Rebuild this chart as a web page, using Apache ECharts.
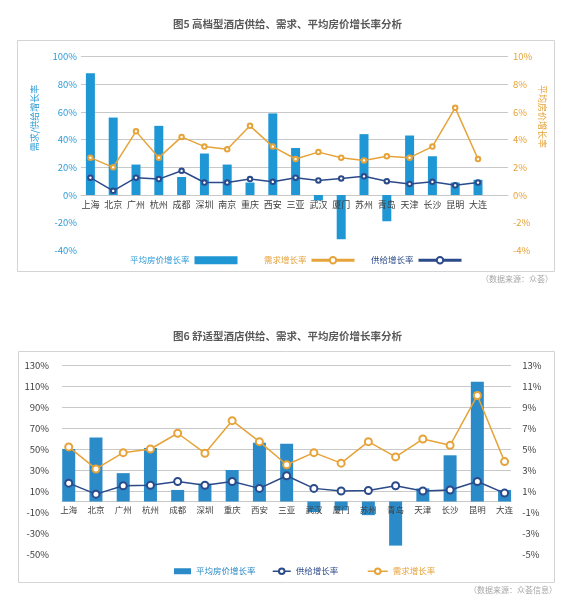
<!DOCTYPE html>
<html><head><meta charset="utf-8">
<script src="https://cdn.jsdelivr.net/npm/echarts@6/dist/echarts.min.js"></script>
<style>
html,body{margin:0;padding:0;background:#fff;}
#c5{position:absolute;left:0;top:0;width:575px;height:300px;}
#c6{position:absolute;left:0;top:300px;width:575px;height:303px;}
</style>
</head><body>
<div id="c5"></div><div id="c6"></div>
<script>
// ---------- 图5 data ----------
const cities5 = ['上海','北京','广州','杭州','成都','深圳','南京','重庆','西安','三亚','武汉','厦门','苏州','青岛','天津','长沙','昆明','大连'];
const adrGrowth5 = [8.8, 5.6, 2.2, 5.0, 1.3, 3.0, 2.2, 0.9, 5.9, 3.4, -0.4, -3.2, 4.4, -1.9, 4.3, 2.8, 0.9, 1.1];
const demandGrowth5 = [27, 20, 46, 27, 42, 35, 33, 50, 35, 26, 31, 27, 25, 28, 27, 35, 63, 26];
const supplyGrowth5 = [12.5, 3, 12.5, 11.5, 17.5, 9, 9, 11.5, 9.5, 12.5, 10.5, 12, 13.5, 10, 8, 9.5, 7, 9];
const leftTicks5 = [-40, -20, 0, 20, 40, 60, 80, 100];
const rightTicks5 = [-4, -2, 0, 2, 4, 6, 8, 10];

// ---------- 图6 data ----------
const cities6 = ['上海','北京','广州','杭州','成都','深圳','重庆','西安','三亚','武汉','厦门','苏州','青岛','天津','长沙','昆明','大连'];
const adrGrowth6 = [5.0, 6.1, 2.7, 5.1, 1.1, 1.7, 3.0, 5.6, 5.5, -1.0, -0.85, -1.3, -4.2, 1.25, 4.4, 11.4, 1.1];
const supplyGrowth6 = [17.5, 7, 15, 15.5, 19, 15.5, 19, 12.5, 24.5, 12.5, 10, 10.5, 15, 10, 11, 19, 8];
const demandGrowth6 = [52, 31, 46.5, 50, 65, 46, 77, 57, 35, 46.5, 36.5, 57, 42.5, 59.5, 53.5, 101, 38];
const leftTicks6 = [-50, -30, -10, 10, 30, 50, 70, 90, 110, 130];
const rightTicks6 = [-5, -3, -1, 1, 3, 5, 7, 9, 11, 13];

const FONT = '"Noto Sans CJK SC", "Noto Sans", sans-serif';
const BLUE5 = '#1f97d5', BLUE6 = '#2a8bc8', LBLUE = '#2e9bd6', ORANGE = '#e6a33a', NAVY = '#2b4a8a', GRID = '#c9c9c9';
function range(t) { return { min: t[0], max: t[t.length - 1], interval: t[1] - t[0] }; }
function gridColors(t) { return t.map(v => v < 0 ? 'rgba(0,0,0,0)' : GRID); }
// distance (px) of the zero line above the bottom of a grid of given height
function zeroOffset(t, h) { const r = range(t); return -((0 - r.min) / (r.max - r.min)) * h; }
const noAxis = { axisLine: { show: false }, axisTick: { show: false } };

// ---------- chart 5 ----------
const G5 = { top: 56.7, bottom: 49.7 }, H5 = 300 - G5.top - G5.bottom;
const c5 = echarts.init(document.getElementById('c5'), null, { renderer: 'canvas' });
c5.setOption({
  animation: false,
  textStyle: { fontFamily: FONT },
  title: { text: '图5 高档型酒店供给、需求、平均房价增长率分析', left: 'center', top: 19, padding: 0,
    textStyle: { fontSize: 10.5, fontWeight: 'bold', color: '#595959', fontFamily: FONT } },
  graphic: [
    { type: 'rect', silent: true, shape: { x: 17.5, y: 40.5, width: 537, height: 231 }, style: { fill: 'none', stroke: '#d4d4d4', lineWidth: 1 } },
    { type: 'text', silent: true, x: 35, y: 118, rotation: Math.PI / 2,
      style: { text: '需求/供给增长率', fill: LBLUE, font: '9px ' + FONT, align: 'center', verticalAlign: 'middle', textAlign: 'center', textVerticalAlign: 'middle' } },
    { type: 'text', silent: true, x: 542, y: 116.5, rotation: -Math.PI / 2,
      style: { text: '平均房价增长率', fill: ORANGE, font: '9px ' + FONT, align: 'center', verticalAlign: 'middle', textAlign: 'center', textVerticalAlign: 'middle' } },
    { type: 'text', silent: true, x: 553, y: 279,
      style: { text: '（数据来源：众荟）', fill: '#a6a6a6', font: '8px ' + FONT, align: 'right', verticalAlign: 'middle', textAlign: 'right', textVerticalAlign: 'middle' } }
  ],
  grid: [
    { left: 79, right: 85.6, top: G5.top, bottom: G5.bottom },
    { left: 81, right: 67, top: G5.top, bottom: G5.bottom }
  ],
  xAxis: [
    { type: 'category', gridIndex: 0, data: cities5, z: 5, position: 'bottom', offset: zeroOffset(leftTicks5, H5),
      axisLine: { show: false, onZero: false }, axisTick: { show: false },
      axisLabel: { color: '#404040', fontSize: 9, margin: 5, interval: 0, fontFamily: FONT } },
    { type: 'value', gridIndex: 1, min: 0, max: 1, position: 'bottom', offset: zeroOffset(leftTicks5, H5),
      axisLine: { show: true, onZero: false, lineStyle: { color: GRID } },
      axisTick: { show: false }, axisLabel: { show: false }, splitLine: { show: false } }
  ],
  yAxis: [
    Object.assign({ type: 'value', gridIndex: 0, splitLine: { show: false },
      axisLabel: { formatter: '{value}%', color: LBLUE, fontSize: 9.5, margin: 2, fontFamily: FONT } }, range(leftTicks5), noAxis),
    Object.assign({ type: 'value', gridIndex: 0, position: 'right', splitLine: { show: false },
      axisLabel: { formatter: '{value}%', color: ORANGE, fontSize: 9.5, margin: 23.6, fontFamily: FONT } }, range(rightTicks5), noAxis),
    Object.assign({ type: 'value', gridIndex: 1, axisLabel: { show: false },
      splitLine: { show: true, lineStyle: { color: gridColors(leftTicks5), width: 1 } } }, range(leftTicks5), noAxis)
  ],
  legend: [
    { data: ['平均房价增长率'], left: 130, top: 256, padding: 0, align: 'right', icon: 'rect', itemWidth: 43, itemHeight: 8,
      selectedMode: false, textStyle: { color: LBLUE, fontSize: 8.5, fontFamily: FONT } },
    { data: ['需求增长率'], left: 264, top: 256, padding: 0, align: 'right', itemWidth: 43, itemHeight: 8,
      lineStyle: { width: 3 }, selectedMode: false, textStyle: { color: ORANGE, fontSize: 8.5, fontFamily: FONT } },
    { data: ['供给增长率'], left: 371, top: 256, padding: 0, align: 'right', itemWidth: 43, itemHeight: 8,
      lineStyle: { width: 3 }, selectedMode: false, textStyle: { color: NAVY, fontSize: 8.5, fontFamily: FONT } }
  ],
  series: [
    { name: '平均房价增长率', type: 'bar', xAxisIndex: 0, yAxisIndex: 1, data: adrGrowth5, barWidth: 9, itemStyle: { color: BLUE5 } },
    { name: '需求增长率', type: 'line', xAxisIndex: 0, yAxisIndex: 0, data: demandGrowth5, symbol: 'emptyCircle', symbolSize: 4.5,
      lineStyle: { color: ORANGE, width: 1.5 }, itemStyle: { color: ORANGE, borderWidth: 1.2 } },
    { name: '供给增长率', type: 'line', xAxisIndex: 0, yAxisIndex: 0, data: supplyGrowth5, symbol: 'emptyCircle', symbolSize: 4.5,
      lineStyle: { color: NAVY, width: 1.5 }, itemStyle: { color: NAVY, borderWidth: 1.2 } }
  ]
});

// ---------- chart 6 ----------
const G6 = { top: 65, bottom: 49 }, H6 = 303 - G6.top - G6.bottom;
const c6 = echarts.init(document.getElementById('c6'), null, { renderer: 'canvas' });
c6.setOption({
  animation: false,
  textStyle: { fontFamily: FONT },
  title: { text: '图6 舒适型酒店供给、需求、平均房价增长率分析', left: 'center', top: 31, padding: 0,
    textStyle: { fontSize: 10.5, fontWeight: 'bold', color: '#595959', fontFamily: FONT } },
  graphic: [
    { type: 'rect', silent: true, shape: { x: 18.5, y: 51.5, width: 536, height: 231 }, style: { fill: 'none', stroke: '#d4d4d4', lineWidth: 1 } },
    { type: 'text', silent: true, x: 557, y: 290,
      style: { text: '（数据来源：众荟信息）', fill: '#a6a6a6', font: '8px ' + FONT, align: 'right', verticalAlign: 'middle', textAlign: 'right', textVerticalAlign: 'middle' } }
  ],
  grid: [
    { left: 55.1, right: 56.8, top: G6.top, bottom: G6.bottom },
    { left: 62, right: 64, top: G6.top, bottom: G6.bottom }
  ],
  xAxis: [
    { type: 'category', gridIndex: 0, data: cities6, z: 5, position: 'bottom', offset: zeroOffset(leftTicks6, H6),
      axisLine: { show: false, onZero: false }, axisTick: { show: false },
      axisLabel: { color: '#404040', fontSize: 8.5, margin: 4.5, interval: 0, fontFamily: FONT } },
    { type: 'value', gridIndex: 1, min: 0, max: 1, position: 'bottom', offset: zeroOffset(leftTicks6, H6),
      axisLine: { show: true, onZero: false, lineStyle: { color: GRID } },
      axisTick: { show: false }, axisLabel: { show: false }, splitLine: { show: false } }
  ],
  yAxis: [
    Object.assign({ type: 'value', gridIndex: 0, splitLine: { show: false },
      axisLabel: { formatter: '{value}%', color: '#404040', fontSize: 9.5, margin: 6, fontFamily: FONT } }, range(leftTicks6), noAxis),
    Object.assign({ type: 'value', gridIndex: 0, position: 'right', splitLine: { show: false },
      axisLabel: { formatter: '{value}%', color: '#404040', fontSize: 9.5, margin: 4, fontFamily: FONT } }, range(rightTicks6), noAxis),
    Object.assign({ type: 'value', gridIndex: 1, axisLabel: { show: false },
      splitLine: { show: true, lineStyle: { color: gridColors(leftTicks6), width: 1 } } }, range(leftTicks6), noAxis)
  ],
  legend: [
    { data: ['平均房价增长率'], left: 174, top: 267, padding: 0, icon: 'rect', itemWidth: 17, itemHeight: 6,
      selectedMode: false, textStyle: { color: BLUE6, fontSize: 8.5, fontFamily: FONT } },
    { data: ['供给增长率'], left: 272, top: 267, padding: 0, itemWidth: 18, itemHeight: 7,
      lineStyle: { width: 1.5 }, selectedMode: false, textStyle: { color: NAVY, fontSize: 8.5, fontFamily: FONT } },
    { data: ['需求增长率'], left: 367, top: 267, padding: 0, itemWidth: 20, itemHeight: 7,
      lineStyle: { width: 1.5 }, selectedMode: false, textStyle: { color: ORANGE, fontSize: 8.5, fontFamily: FONT } }
  ],
  series: [
    { name: '平均房价增长率', type: 'bar', xAxisIndex: 0, yAxisIndex: 1, data: adrGrowth6, barWidth: 13, itemStyle: { color: BLUE6 } },
    { name: '供给增长率', type: 'line', xAxisIndex: 0, yAxisIndex: 0, data: supplyGrowth6, symbol: 'emptyCircle', symbolSize: 7,
      lineStyle: { color: NAVY, width: 1.5 }, itemStyle: { color: NAVY, borderWidth: 1.5 } },
    { name: '需求增长率', type: 'line', xAxisIndex: 0, yAxisIndex: 0, data: demandGrowth6, symbol: 'emptyCircle', symbolSize: 7,
      lineStyle: { color: ORANGE, width: 1.5 }, itemStyle: { color: ORANGE, borderWidth: 1.5 } }
  ]
});
</script>
</body></html>
